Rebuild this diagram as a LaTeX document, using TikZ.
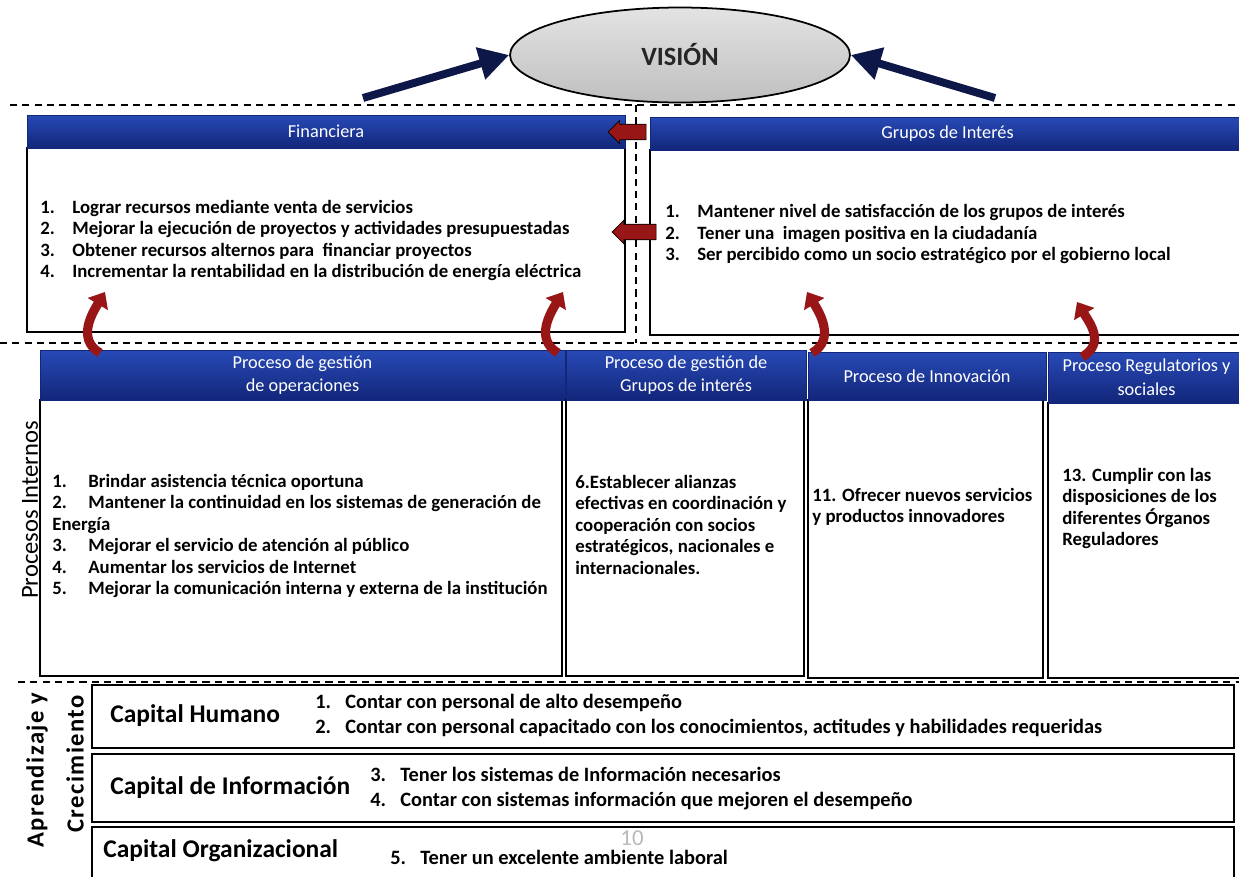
\documentclass[tikz,border=0pt]{standalone}
\usepackage{fontspec}
\setmainfont{Carlito}
\usetikzlibrary{positioning, arrows.meta, shapes.geometric, shapes.arrows, fit}
\definecolor{hdrtop}{RGB}{40,74,182}
\definecolor{hdrbot}{RGB}{18,38,122}
\definecolor{visnavy}{RGB}{14,24,72}
\definecolor{arrred}{RGB}{152,22,22}
\tikzset{
  hdr/.style={
    inner sep=0pt, top color=hdrtop, bottom color=hdrbot, draw=hdrbot,
    text=white, font=\fontsize{10.4}{13.5}\selectfont, align=center
  },
  panel/.style={draw, line width=1.1pt, inner sep=0pt, fill=white},
  capbox/.style={draw, line width=1.3pt, inner sep=0pt, fill=white},
  itm/.style={
    anchor=north west, align=left, inner sep=0pt,
    font=\fontsize{10.7}{12.2}\selectfont\bfseries
  },
  caplbl/.style={anchor=west, inner sep=0pt, font=\fontsize{14.5}{16}\selectfont\bfseries},
  capitm/.style={
    anchor=north west, align=left, inner sep=0pt,
    font=\fontsize{11.6}{14}\selectfont\bfseries
  },
  sidelbl/.style={rotate=90, inner sep=0pt},
  sep/.style={line width=1.2pt, dash pattern=on 4pt off 3pt},
  visarr/.style={-{Triangle[length=17pt, width=18pt]}, line width=4.5pt, visnavy},
  blkarr/.style={
    single arrow, draw=black, line width=0.4pt, fill=arrred,
    shape border rotate=180, minimum width=0.46cm,
    single arrow head extend=0.06cm, inner sep=0.12cm
  },
  curlarr/.style={-{Triangle[length=8pt, width=13pt]}, line width=5.2pt, arrred},
}
\newcommand{\nm}[2][0.64cm]{\makebox[#1][l]{#2}}

\begin{document}
\begin{tikzpicture}[x=0.02cm, y=-0.02cm]
  \useasboundingbox[fill=white] (0,0) rectangle (1239,876);

  % vision
  \node[ellipse, draw, line width=1pt, top color=gray!22, bottom color=gray!50,
        minimum width=6.8cm, minimum height=1.9cm,
        font=\fontsize{15}{15}\selectfont\bfseries, text=black!85] (vision) at (680,55) {VISIÓN};
  \coordinate (la) at (363,98);
  \coordinate (ra) at (995,98);
  \draw[visarr] (la) -- (vision.west);
  \draw[visarr] (ra) -- (vision.east);

  % separators
  \draw[sep] (10,105) -- (1239,105);
  \draw[sep] (0,343) -- (1239,343);
  \draw[sep] (18,682) -- (1239,682);
  \draw[sep] (636,105) -- (636,343);

  % financiera
  \node[panel, fit={(27,148) (625,332)}] (finB) {};
  \node[hdr, minimum width=11.96cm, minimum height=0.66cm] (finH) at (326,131.5) {Financiera};
  \node[itm] (finT) at (40,200) {%
    \nm{1.}Lograr recursos mediante venta de servicios\\
    \nm{2.}Mejorar la ejecución de proyectos y actividades presupuestadas\\
    \nm{3.}Obtener recursos alternos para\ \ financiar proyectos\\
    \nm{4.}Incrementar\ la rentabilidad en la distribución de energía eléctrica};

  % grupos de interes
  \node[panel, fit={(650,150) (1245,335)}] (gruB) {};
  \node[hdr, minimum width=11.9cm, minimum height=0.66cm] (gruH) at (947.5,133.5) {Grupos de Interés};
  \node[itm] (gruT) at (665,204) {%
    \nm{1.}Mantener nivel de satisfacción de los grupos de interés\\
    \nm{2.}Tener una\ \ imagen positiva en la ciudadanía\\
    \nm{3.}Ser percibido como un socio estratégico por el gobierno local};

  % procesos internos
  \node[panel, fit={(40,400) (562,676)}] (opB) {};
  \node[hdr, minimum width=10.5cm, minimum height=1cm] (opH) at (302.5,375) {Proceso de gestión\\de operaciones};
  \node[panel, fit={(566,400) (804,676)}] (giB) {};
  \node[hdr, minimum width=4.8cm, minimum height=1cm] (giH) at (686,375) {Proceso de gestión de\\Grupos de interés};
  \node[panel, fit={(808,400) (1043,678)}] (inB) {};
  \node[hdr, minimum width=4.76cm, minimum height=0.96cm] (inH) at (927,376) {Proceso de Innovación};
  \node[panel, fit={(1048,403) (1245,678)}] (reB) {};
  \node[hdr, minimum width=3.94cm, minimum height=1.02cm] (reH) at (1146.5,377.5) {Proceso Regulatorios y\\sociales};

  \node[itm] (opT) at (52,474) {%
    \nm[0.72cm]{1.}Brindar asistencia técnica oportuna\\
    \nm[0.72cm]{2.}Mantener la continuidad en los sistemas de generación de\\
    Energía\\
    \nm[0.72cm]{3.}Mejorar el servicio de atención al público\\
    \nm[0.72cm]{4.}Aumentar los servicios de Internet\\
    \nm[0.72cm]{5.}Mejorar la comunicación interna y externa de la institución};
  \node[itm] (giT) at (575,475) {%
    6.Establecer alianzas\\
    efectivas en coordinación y\\
    cooperación con socios\\
    estratégicos, nacionales e\\
    internacionales.};
  \node[itm] (inT) at (812,488) {%
    11. Ofrecer nuevos servicios\\
    y productos innovadores};
  \node[itm] (reT) at (1062,468) {%
    13. Cumplir con las\\
    disposiciones de los\\
    diferentes Órganos\\
    Reguladores};
  \node[sidelbl, font=\fontsize{14}{16}\selectfont] (piL) at (30,510) {Procesos Internos};

  % aprendizaje y crecimiento
  \node[capbox, fit={(92,685) (1234,748)}] (chB) {};
  \node[capbox, fit={(92,754) (1234,822)}] (ciB) {};
  \node[capbox, fit={(92,827) (1234,882)}] (coB) {};
  \node[text=gray!55, font=\fontsize{13}{13}\selectfont] (pgno) at (632,838) {10};
  \node[caplbl] (chL) at (110,716) {Capital Humano};
  \node[capitm] (chT) at (315,694) {%
    \nm[0.6cm]{1.}Contar con personal de alto desempeño\\
    \nm[0.6cm]{2.}Contar con personal capacitado con los conocimientos, actitudes y habilidades requeridas};
  \node[caplbl] (ciL) at (110,788) {Capital de Información};
  \node[capitm] (ciT) at (370,767) {%
    \nm[0.6cm]{3.}Tener los sistemas de Información necesarios\\
    \nm[0.6cm]{4.}Contar con sistemas información que mejoren el desempeño};
  \node[caplbl] (coL) at (103,851) {Capital Organizacional};
  \node[capitm, anchor=west] (coT) at (390,857) {\nm[0.6cm]{5.}Tener un excelente ambiente laboral};
  \node[sidelbl, font=\fontsize{14}{16}\selectfont\bfseries\addfontfeature{LetterSpace=6}] (acL1) at (37,770) {Aprendizaje y};
  \node[sidelbl, font=\fontsize{14}{16}\selectfont\bfseries\addfontfeature{LetterSpace=6}] (acL2) at (75,764) {Crecimiento};

  % red arrows
  \node[blkarr, minimum height=0.76cm] (fg1) at (631,132) {};
  \node[blkarr, minimum height=0.88cm] (fg2) at (638,232) {};
  \coordinate (c1s) at (100,353);
  \coordinate (c1e) at (105,292);
  \coordinate (c2s) at (558,353);
  \coordinate (c2e) at (563,292);
  \coordinate (c3s) at (812,353);
  \coordinate (c3e) at (807,292);
  \coordinate (c4s) at (1082,357);
  \coordinate (c4e) at (1077,302);
  \draw[curlarr] (c1s) .. controls +(-24,-14) and +(-12,20) .. (c1e);
  \draw[curlarr] (c2s) .. controls +(-24,-14) and +(-12,20) .. (c2e);
  \draw[curlarr] (c3s) .. controls +(24,-14) and +(12,20) .. (c3e);
  \draw[curlarr] (c4s) .. controls +(24,-14) and +(12,20) .. (c4e);
\end{tikzpicture}
\end{document}
